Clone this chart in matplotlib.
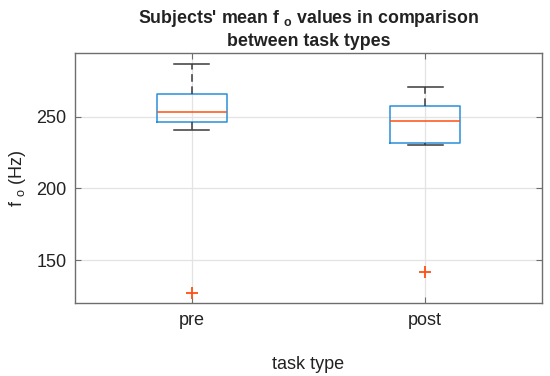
import matplotlib
matplotlib.use("Agg")
import matplotlib.pyplot as plt

plt.rcParams['font.family'] = ['Liberation Sans', 'DejaVu Sans']
plt.rcParams['mathtext.default'] = 'regular'

categories = ["pre", "post"]
whisker_low = [240.7, 230.5]
q1 = [246.3, 231.5]
median = [253.0, 246.8]
q3 = [266.0, 257.7]
whisker_high = [286.5, 270.9]
outliers = [[127.4], [141.6]]

stats = []
for i, c in enumerate(categories):
    stats.append(dict(label=c, whislo=whisker_low[i], q1=q1[i], med=median[i],
                      q3=q3[i], whishi=whisker_high[i], fliers=outliers[i]))

fig = plt.figure(figsize=(5.5, 3.76), dpi=100)
ax = fig.add_axes([75/550, 1-303.3/376, (542-75)/550, (303.3-53)/376])

box_c = '#2A8FDB'
red = '#FF4F14'
ax.bxp(stats, positions=[1, 2], widths=0.3, showfliers=True,
       boxprops=dict(color=box_c, linewidth=1.1),
       medianprops=dict(color=red, linewidth=1.1),
       whiskerprops=dict(color='#3a3a3a', linewidth=1.1, linestyle=(0, (5, 3))),
       capprops=dict(color='#3a3a3a', linewidth=1.1),
       capwidths=0.15,
       flierprops=dict(marker='+', markeredgecolor=red, markersize=9, markeredgewidth=1.3, linestyle='none'),
       zorder=3)

ax.set_xlim(0.5, 2.5)
ax.set_ylim(120, 294.4)
ax.set_xticks([1, 2])
ax.set_xticklabels(categories)
ax.set_yticks([150, 200, 250])
ax.grid(True, color='#e3e3e3', linewidth=0.9, zorder=0)
ax.set_axisbelow(True)
ax.tick_params(direction='in', top=True, right=True, labelsize=13, colors='#6e6e6e',
               labelcolor='#222222', length=4, pad=6)
for s in ax.spines.values():
    s.set_color('#6e6e6e')
    s.set_linewidth(1.0)

ax.set_title("Subjects' mean f $_{o}$ values in comparison\nbetween task types",
             fontsize=12.8, fontweight='bold', color='#222222', pad=5, linespacing=1.35)
ax.set_ylabel("f $_{o}$ (Hz)", fontsize=13, color='#222222', labelpad=6)
ax.set_xlabel("task type", fontsize=13, color='#222222', labelpad=20)

fig.savefig("out.png", dpi=100)
